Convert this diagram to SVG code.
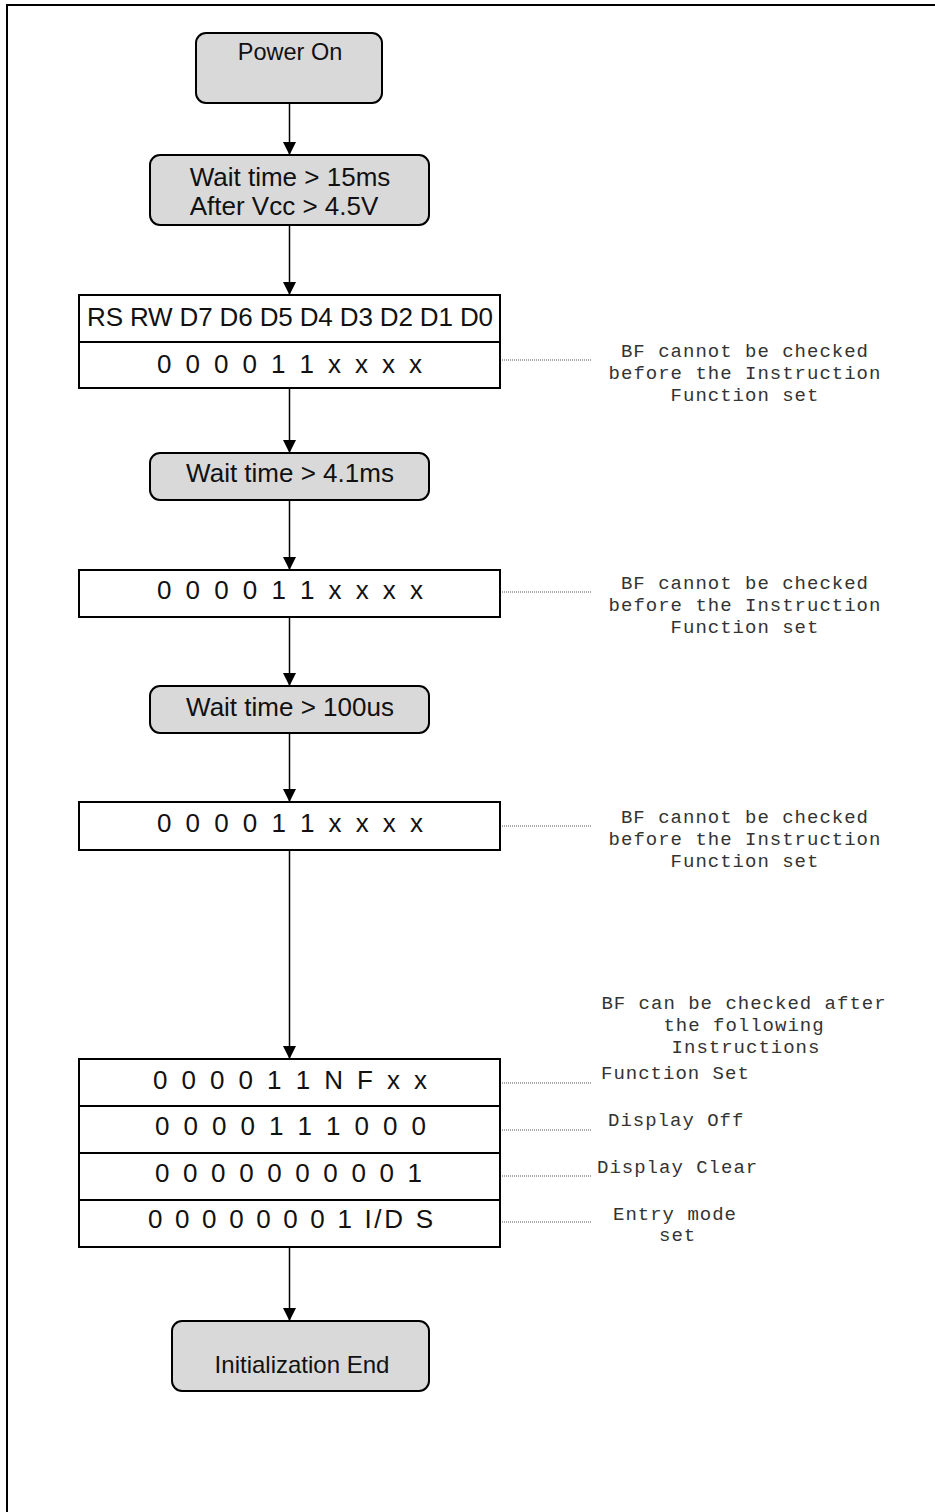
<svg xmlns="http://www.w3.org/2000/svg" width="935" height="1512" viewBox="0 0 935 1512">
<style>
.rbox{fill:#d9d9d9;stroke:#000;stroke-width:2}
.box{fill:#fff;stroke:#000;stroke-width:2}
.t{font-family:"Liberation Sans",Arial,sans-serif;font-size:26px;fill:#111}
.m{font-family:"Liberation Mono","Courier New",monospace;font-size:19px;letter-spacing:1px;fill:#333}
.conn{stroke:#000;stroke-width:1.5;fill:none}
.dot{stroke:#555;stroke-width:1;stroke-dasharray:1 1;fill:none}
.frame{stroke:#000;stroke-width:2;fill:none}
</style>
<defs>
<marker id="ah" markerUnits="userSpaceOnUse" markerWidth="13" markerHeight="13" viewBox="0 0 13 13" refX="13" refY="6.5" orient="auto">
<path d="M0,0 L13,6.5 L0,13 Z" fill="#000"/>
</marker>
</defs>
<rect width="935" height="1512" fill="#fff"/>
<path class="frame" d="M7,1512 V5 H935"/>

<g id="connectors">
<path class="conn" d="M289.5,103 V155" marker-end="url(#ah)"/>
<path class="conn" d="M289.5,225 V295" marker-end="url(#ah)"/>
<path class="conn" d="M289.5,388 V453" marker-end="url(#ah)"/>
<path class="conn" d="M289.5,500 V570" marker-end="url(#ah)"/>
<path class="conn" d="M289.5,617 V686" marker-end="url(#ah)"/>
<path class="conn" d="M289.5,733 V802" marker-end="url(#ah)"/>
<path class="conn" d="M289.5,850 V1059" marker-end="url(#ah)"/>
<path class="conn" d="M289.5,1247 V1321" marker-end="url(#ah)"/>
<path class="dot" d="M500,360 H592"/>
<path class="dot" d="M500,592 H592"/>
<path class="dot" d="M500,826 H592"/>
<path class="dot" d="M500,1083 H592"/>
<path class="dot" d="M500,1130 H592"/>
<path class="dot" d="M500,1176 H592"/>
<path class="dot" d="M500,1222 H592"/>
</g>

<g id="power-on">
<rect class="rbox" x="196" y="33" width="186" height="70" rx="10"/>
<text class="t" x="290" y="60" text-anchor="middle" style="font-size:23.5px">Power On</text>
</g>

<g id="wait-15ms">
<rect class="rbox" x="150" y="155" width="279" height="70" rx="10"/>
<text class="t" x="290" y="186" text-anchor="middle">Wait time &gt; 15ms</text>
<text class="t" x="284" y="215" text-anchor="middle">After Vcc &gt; 4.5V</text>
</g>

<g id="function-set-1">
<rect class="box" x="79" y="295" width="421" height="93"/>
<line x1="79" y1="342" x2="500" y2="342" stroke="#000" stroke-width="2"/>
<text class="t" x="87" y="326" textLength="406" lengthAdjust="spacing">RS RW D7 D6 D5 D4 D3 D2 D1 D0</text>
<text class="t" x="157" y="373" textLength="265" lengthAdjust="spacing">0 0 0 0 1 1 x x x x</text>
</g>
<g id="note-1">
<text class="m" x="745" y="357" text-anchor="middle">BF cannot be checked</text>
<text class="m" x="745" y="379" text-anchor="middle">before the Instruction</text>
<text class="m" x="745" y="401" text-anchor="middle">Function set</text>
</g>

<g id="wait-4-1ms">
<rect class="rbox" x="150" y="453" width="279" height="47" rx="10"/>
<text class="t" x="290" y="482" text-anchor="middle">Wait time &gt; 4.1ms</text>
</g>

<g id="function-set-2">
<rect class="box" x="79" y="570" width="421" height="47"/>
<text class="t" x="157" y="599" textLength="266" lengthAdjust="spacing">0 0 0 0 1 1 x x x x</text>
</g>
<g id="note-2">
<text class="m" x="745" y="589" text-anchor="middle">BF cannot be checked</text>
<text class="m" x="745" y="611" text-anchor="middle">before the Instruction</text>
<text class="m" x="745" y="633" text-anchor="middle">Function set</text>
</g>

<g id="wait-100us">
<rect class="rbox" x="150" y="686" width="279" height="47" rx="10"/>
<text class="t" x="290" y="716" text-anchor="middle">Wait time &gt; 100us</text>
</g>

<g id="function-set-3">
<rect class="box" x="79" y="802" width="421" height="48"/>
<text class="t" x="157" y="832" textLength="266" lengthAdjust="spacing">0 0 0 0 1 1 x x x x</text>
</g>
<g id="note-3">
<text class="m" x="745" y="823" text-anchor="middle">BF cannot be checked</text>
<text class="m" x="745" y="845" text-anchor="middle">before the Instruction</text>
<text class="m" x="745" y="867" text-anchor="middle">Function set</text>
</g>

<g id="note-4">
<text class="m" x="744" y="1009" text-anchor="middle">BF can be checked after</text>
<text class="m" x="744" y="1031" text-anchor="middle">the following</text>
<text class="m" x="746" y="1053" text-anchor="middle">Instructions</text>
</g>

<g id="instruction-table">
<rect class="box" x="79" y="1059" width="421" height="188"/>
<line x1="79" y1="1106" x2="500" y2="1106" stroke="#000" stroke-width="2"/>
<line x1="79" y1="1153" x2="500" y2="1153" stroke="#000" stroke-width="2"/>
<line x1="79" y1="1200" x2="500" y2="1200" stroke="#000" stroke-width="2"/>
<text class="t" x="153" y="1089" textLength="274" lengthAdjust="spacing">0 0 0 0 1 1 N F x x</text>
<text class="t" x="155" y="1135" textLength="271" lengthAdjust="spacing">0 0 0 0 1 1 1 0 0 0</text>
<text class="t" x="155" y="1182" textLength="267" lengthAdjust="spacing">0 0 0 0 0 0 0 0 0 1</text>
<text class="t" x="148" y="1228" textLength="285" lengthAdjust="spacing">0 0 0 0 0 0 0 1 I/D S</text>
</g>
<g id="labels">
<text class="m" x="601" y="1079">Function Set</text>
<text class="m" x="608" y="1126">Display Off</text>
<text class="m" x="597" y="1173">Display Clear</text>
<text class="m" x="613" y="1220">Entry mode</text>
<text class="m" x="659" y="1241">set</text>
</g>

<g id="init-end">
<rect class="rbox" x="172" y="1321" width="257" height="70" rx="10"/>
<text class="t" x="302" y="1373" text-anchor="middle" style="font-size:24px">Initialization End</text>
</g>
</svg>
